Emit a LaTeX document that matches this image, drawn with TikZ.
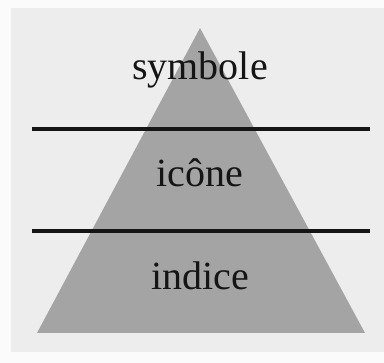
\documentclass[tikz,border=0pt]{standalone}
\usepackage{fontspec}
\setmainfont{Liberation Serif}
\usetikzlibrary{positioning}
\definecolor{paper}{HTML}{FBFBFB}
\definecolor{card}{HTML}{EDEDED}
\definecolor{stone}{HTML}{A4A4A4}
\definecolor{ink}{HTML}{151515}
\tikzset{
  levellabel/.style={font=\fontsize{40}{44}\selectfont,text=ink,inner sep=0pt},
  divider/.style={draw=ink,line width=3.2pt}
}
\begin{document}
\begin{tikzpicture}[x=1pt,y=-1pt]
  \fill[paper] (0,0) rectangle (384,363);
  \useasboundingbox (0,0) rectangle (384,363);
  \fill[card] (11,8) rectangle (384,352);
  % pyramid
  \coordinate (apex) at (200,28);
  \coordinate (baseL) at (37,333);
  \coordinate (baseR) at (365,333);
  \fill[stone] (apex) -- (baseL) -- (baseR) -- cycle;
  % dividing lines
  \coordinate (topL) at (32,129);
  \coordinate (topR) at (370,129);
  \coordinate (lowL) at (32,231);
  \coordinate (lowR) at (370,231);
  \draw[divider] (topL) -- (topR);
  \draw[divider] (lowL) -- (lowR);
  % levels
  \node[levellabel] (symb) at (200,70) {symbole};
  \node[levellabel] (icon) at (200,173) {icône};
  \node[levellabel] (indx) at (200,276) {indice};
\end{tikzpicture}
\end{document}
